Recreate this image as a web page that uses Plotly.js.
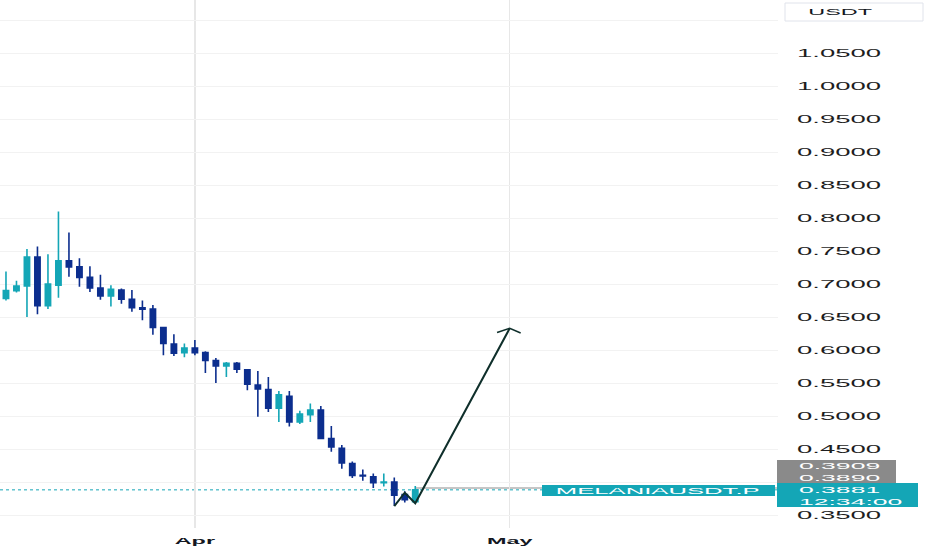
<!DOCTYPE html>
<html>
<head>
<meta charset="utf-8">
<script src="https://cdn.plot.ly/plotly-3.0.1.min.js"></script>
<style>
  html, body { margin: 0; padding: 0; background: #ffffff; }
  #chart { width: 932px; height: 550px; }
  g.ytick { transform-box: fill-box; transform-origin: 0% 50%; transform: scaleX(2.5); }
  g.xtick { transform-box: fill-box; transform-origin: 50% 50%; transform: scaleX(2.6); }
  g.annotation text { transform-box: fill-box; transform-origin: 0% 50%; transform: scaleX(2.95); }
  g.annotation[data-index="0"] text { transform-origin: 50% 50%; transform: scaleX(2.6); }
  g.annotation[data-index="5"] text { transform-origin: 50% 50%; transform: scaleX(2.85); }
</style>
</head>
<body>
<div id="chart"></div>
<script>
// ---- data ----
var dates = ['2025-03-14','2025-03-15','2025-03-16','2025-03-17','2025-03-18','2025-03-19','2025-03-20','2025-03-21','2025-03-22','2025-03-23',
             '2025-03-24','2025-03-25','2025-03-26','2025-03-27','2025-03-28','2025-03-29','2025-03-30','2025-03-31','2025-04-01','2025-04-02',
             '2025-04-03','2025-04-04','2025-04-05','2025-04-06','2025-04-07','2025-04-08','2025-04-09','2025-04-10','2025-04-11','2025-04-12',
             '2025-04-13','2025-04-14','2025-04-15','2025-04-16','2025-04-17','2025-04-18','2025-04-19','2025-04-20','2025-04-21','2025-04-22'];
var openP  = [0.678,0.690,0.697,0.741,0.667,0.698,0.735,0.726,0.710,0.694,
              0.682,0.691,0.677,0.664,0.662,0.634,0.609,0.596,0.603,0.596,
              0.584,0.576,0.580,0.570,0.547,0.540,0.512,0.530,0.491,0.502,
              0.509,0.466,0.451,0.428,0.410,0.408,0.399,0.400,0.381,0.370];
var highP  = [0.719,0.705,0.753,0.757,0.745,0.810,0.778,0.739,0.727,0.714,
              0.698,0.693,0.691,0.675,0.668,0.635,0.624,0.610,0.615,0.598,
              0.588,0.582,0.582,0.571,0.568,0.559,0.538,0.538,0.508,0.519,
              0.515,0.485,0.456,0.431,0.419,0.413,0.413,0.407,0.386,0.394];
var lowP   = [0.675,0.687,0.650,0.654,0.662,0.679,0.711,0.696,0.688,0.676,
              0.666,0.670,0.658,0.645,0.623,0.592,0.591,0.589,0.592,0.565,
              0.550,0.559,0.565,0.539,0.499,0.506,0.491,0.484,0.488,0.491,
              0.465,0.446,0.420,0.406,0.402,0.391,0.393,0.364,0.369,0.368];
var closeP = [0.690,0.697,0.741,0.667,0.700,0.735,0.726,0.710,0.694,0.682,
              0.692,0.677,0.664,0.662,0.634,0.610,0.595,0.603,0.596,0.584,
              0.576,0.580,0.571,0.548,0.541,0.512,0.532,0.491,0.503,0.509,
              0.466,0.453,0.429,0.410,0.409,0.399,0.400,0.380,0.373,0.3881];

// hand-drawn projection path
var drawX = ['2025-04-20','2025-04-21','2025-04-22','2025-05-01'];
var drawY = [0.3636, 0.3838, 0.3677, 0.6329];
var arrowX = ['2025-04-29 19:00','2025-05-01','2025-05-02 01:00'];
var arrowY = [0.6265, 0.6329, 0.6258];

var currentPrice = 0.3881;
var rayPrice = 0.3909;
var rayStart = '2025-04-22';
var priceLabels = ['0.3909','0.3890','0.3881','12:34:00'];
var symbolLabel = 'MELANIAUSDT.P';
var currencyLabel = 'USDT';

var yTickVals = [0.35,0.40,0.45,0.50,0.55,0.60,0.65,0.70,0.75,0.80,0.85,0.90,0.95,1.00,1.05,1.10];
var yTickText = ['0.3500','','0.4500','0.5000','0.5500','0.6000','0.6500','0.7000','0.7500','0.8000','0.8500','0.9000','0.9500','1.0000','1.0500',''];
var xTickVals = ['2025-04-01','2025-05-01'];
var xTickText = ['Apr','May'];

// ---- style ----
var TEAL = '#14a6b6';
var NAVY = '#0c2e8e';
var PLOT_W = 778, PLOT_H = 528;
function px(x) { return x / PLOT_W; }
function py(y) { return (PLOT_H - y) / PLOT_H; }

var traces = [
  {
    type: 'candlestick', x: dates, open: openP, high: highP, low: lowP, close: closeP,
    increasing: { line: { color: TEAL, width: 1.6 }, fillcolor: TEAL },
    decreasing: { line: { color: NAVY, width: 1.6 }, fillcolor: NAVY },
    whiskerwidth: 0, hoverinfo: 'skip'
  },
  {
    type: 'scatter', mode: 'lines', x: drawX, y: drawY,
    line: { color: '#0f2f2b', width: 2 }, hoverinfo: 'skip'
  },
  {
    type: 'scatter', mode: 'lines', x: arrowX, y: arrowY,
    line: { color: '#0f2f2b', width: 1.5 }, hoverinfo: 'skip'
  }
];

var FONT = 'Liberation Sans, Arial, sans-serif';

var layout = {
  width: 932, height: 550,
  margin: { l: 0, r: 932 - PLOT_W, t: 0, b: 550 - PLOT_H },
  paper_bgcolor: '#ffffff', plot_bgcolor: '#ffffff',
  showlegend: false,
  boxgap: 0.28,
  xaxis: {
    type: 'date',
    range: ['2025-03-13 10:20', '2025-05-26 13:30'],
    rangeslider: { visible: false },
    tickmode: 'array', tickvals: xTickVals, ticktext: xTickText,
    showgrid: true, gridcolor: '#e7e7e7', gridwidth: 1.5,
    zeroline: false, showline: false, ticks: '',
    tickfont: { family: FONT, size: 9, color: '#131722', weight: 'bold' },
    ticklabelstandoff: 6,
    fixedrange: true
  },
  yaxis: {
    side: 'right',
    range: [0.3303, 1.1303],
    tickmode: 'array', tickvals: yTickVals, ticktext: yTickText,
    showgrid: true, gridcolor: '#f2f2f2', gridwidth: 1,
    zeroline: false, showline: false, ticks: '',
    tickfont: { family: FONT, size: 11, color: '#1e1e1e' },
    ticklabelstandoff: 18,
    fixedrange: true
  },
  shapes: [
    { type: 'line', xref: 'paper', yref: 'y', x0: 0, x1: 1, y0: currentPrice, y1: currentPrice,
      line: { color: TEAL, width: 1, dash: 'dot' }, layer: 'below' },
    { type: 'line', xref: 'x', yref: 'y', x0: rayStart, x1: '2025-05-26 12:00', y0: rayPrice, y1: rayPrice,
      line: { color: '#c6c6c6', width: 2 }, layer: 'below' },
    { type: 'rect', xref: 'paper', yref: 'paper', x0: px(785), x1: px(923), y0: py(21), y1: py(3),
      fillcolor: '#ffffff', line: { color: '#e0e3eb', width: 1 } },
    { type: 'rect', xref: 'paper', yref: 'paper', x0: px(777), x1: px(896), y0: py(483), y1: py(460),
      fillcolor: '#8a8a8a', line: { width: 0 } },
    { type: 'rect', xref: 'paper', yref: 'paper', x0: px(777), x1: px(918), y0: py(507), y1: py(483),
      fillcolor: TEAL, line: { width: 0 } },
    { type: 'rect', xref: 'paper', yref: 'paper', x0: px(542), x1: px(775), y0: py(496), y1: py(485),
      fillcolor: TEAL, line: { width: 0 } }
  ],
  annotations: [
    { text: currencyLabel, xref: 'paper', yref: 'paper', x: px(840.5), y: py(12), xanchor: 'center', yanchor: 'middle',
      showarrow: false, font: { family: FONT, size: 9, color: '#131722' }, borderpad: 0 },
    { text: priceLabels[0], xref: 'paper', yref: 'paper', x: px(798), y: py(466), xanchor: 'left', yanchor: 'middle', align: 'left',
      showarrow: false, font: { family: FONT, size: 9, color: '#ffffff' }, borderpad: 0 },
    { text: priceLabels[1], xref: 'paper', yref: 'paper', x: px(798), y: py(477.5), xanchor: 'left', yanchor: 'middle', align: 'left',
      showarrow: false, font: { family: FONT, size: 9, color: '#ffffff' }, borderpad: 0 },
    { text: priceLabels[2], xref: 'paper', yref: 'paper', x: px(798), y: py(490), xanchor: 'left', yanchor: 'middle', align: 'left',
      showarrow: false, font: { family: FONT, size: 9, color: '#ffffff' }, borderpad: 0 },
    { text: priceLabels[3], xref: 'paper', yref: 'paper', x: px(798), y: py(501.5), xanchor: 'left', yanchor: 'middle', align: 'left',
      showarrow: false, font: { family: FONT, size: 9, color: '#ffffff' }, borderpad: 0 },
    { text: symbolLabel, xref: 'paper', yref: 'paper', x: px(658), y: py(490.5), xanchor: 'center', yanchor: 'middle',
      showarrow: false, font: { family: FONT, size: 9, color: '#ffffff' }, borderpad: 0 }
  ]
};

Plotly.newPlot('chart', traces, layout, { displayModeBar: false, staticPlot: true });
</script>
</body>
</html>
